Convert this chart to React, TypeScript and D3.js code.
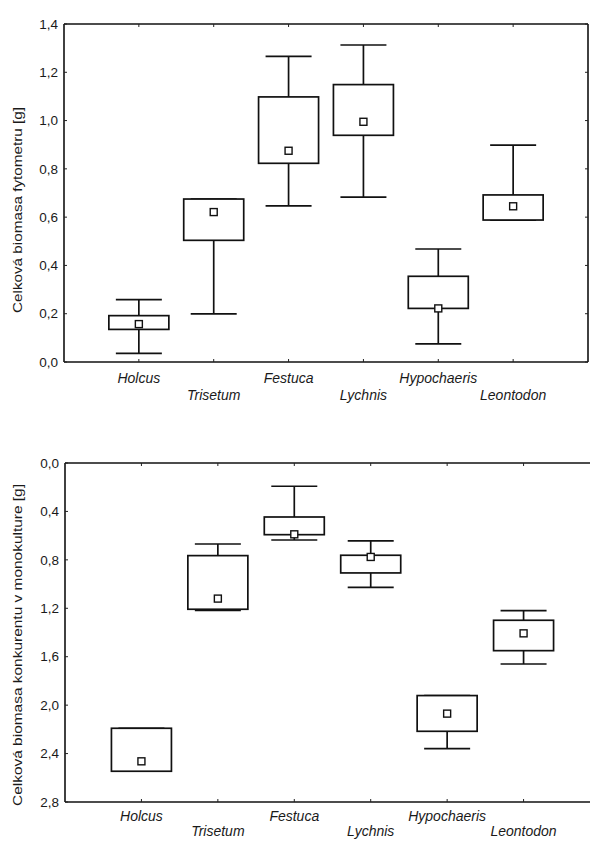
import React from 'react';
import * as d3 from 'd3';

const species = ['Holcus', 'Trisetum', 'Festuca', 'Lychnis', 'Hypochaeris', 'Leontodon'];

// top panel: biomass of phytometer
const topWhiskerLow = [0.036, 0.199, 0.647, 0.683, 0.075, 0.588];
const topBoxLow = [0.135, 0.504, 0.823, 0.939, 0.222, 0.588];
const topBoxHigh = [0.192, 0.675, 1.098, 1.149, 0.355, 0.692];
const topWhiskerHigh = [0.258, 0.675, 1.266, 1.313, 0.468, 0.898];
const topMean = [0.157, 0.621, 0.875, 0.995, 0.222, 0.645];
const topTicks = [0, 0.2, 0.4, 0.6, 0.8, 1.0, 1.2, 1.4];

// bottom panel: competitor biomass in monoculture (reversed axis)
const botWhiskerLow = [2.191, 0.669, 0.192, 0.644, 1.921, 1.219];
const botBoxLow = [2.191, 0.765, 0.446, 0.762, 1.921, 1.299];
const botBoxHigh = [2.546, 1.208, 0.592, 0.908, 2.216, 1.55];
const botWhiskerHigh = [2.546, 1.217, 0.636, 1.027, 2.359, 1.66];
const botMean = [2.464, 1.12, 0.589, 0.776, 2.07, 1.407];
const botTicks = [0, 0.4, 0.8, 1.2, 1.6, 2.0, 2.4, 2.8];

const fmt = (v: number) => d3.format('.1f')(v).replace('.', ',');

type PanelProps = {
  top: number;
  bottom: number;
  left: number;
  right: number;
  domain: [number, number];
  ticks: number[];
  wLo: number[];
  bLo: number[];
  bHi: number[];
  wHi: number[];
  mean: number[];
  title: string;
  titleY: number;
  titleLen: number;
  rightBorder: boolean;
  labelRows: [number, number];
};

function Panel(p: PanelProps) {
  const x = d3.scalePoint<string>().domain(species).range([p.left, p.right]).padding(1);
  const y = d3.scaleLinear().domain(p.domain).range([p.bottom, p.top]);
  const boxW = 60;
  const capW = 46;
  const font = '"Liberation Sans", Arial, sans-serif';
  return (
    <g>
      {/* frame */}
      <line x1={p.left} x2={p.right} y1={p.top} y2={p.top} stroke="#111" strokeWidth={1.6} />
      <line x1={p.left} x2={p.right} y1={p.bottom} y2={p.bottom} stroke="#111" strokeWidth={1.6} />
      <line x1={p.left} x2={p.left} y1={p.top} y2={p.bottom} stroke="#111" strokeWidth={1.6} />
      {p.rightBorder && (
        <line x1={p.right} x2={p.right} y1={p.top} y2={p.bottom} stroke="#111" strokeWidth={1.6} />
      )}
      {/* y ticks */}
      {p.ticks.map((t) => (
        <g key={t}>
          <line x1={p.left} x2={p.left + 3} y1={y(t)} y2={y(t)} stroke="#222" strokeWidth={1} />
          {p.rightBorder && (
            <line x1={p.right} x2={p.right - 3} y1={y(t)} y2={y(t)} stroke="#222" strokeWidth={1} />
          )}
          <text x={p.left - 6} y={y(t)} dy="0.35em" textAnchor="end" fontSize={13.5} fontFamily={font} fill="#1a1a1a">
            {fmt(t)}
          </text>
        </g>
      ))}
      {/* x ticks and labels */}
      {species.map((s, i) => (
        <g key={s}>
          <line x1={x(s)} x2={x(s)} y1={p.bottom} y2={p.bottom - 3} stroke="#222" strokeWidth={1} />
          <line x1={x(s)} x2={x(s)} y1={p.top} y2={p.top + 3} stroke="#222" strokeWidth={1} />
          <text
            x={x(s)}
            y={p.bottom + p.labelRows[i % 2]}
            textAnchor="middle"
            fontSize={14}
            fontStyle="italic"
            fontFamily={font}
            fill="#1a1a1a"
          >
            {s}
          </text>
        </g>
      ))}
      {/* boxes */}
      {species.map((s, i) => {
        const cx = x(s) as number;
        return (
          <g key={s} stroke="#111" strokeWidth={1.7} fill="none">
            <line x1={cx} x2={cx} y1={y(p.wLo[i])} y2={y(p.wHi[i])} />
            <line x1={cx - capW / 2} x2={cx + capW / 2} y1={y(p.wLo[i])} y2={y(p.wLo[i])} />
            <line x1={cx - capW / 2} x2={cx + capW / 2} y1={y(p.wHi[i])} y2={y(p.wHi[i])} />
            <rect
              x={cx - boxW / 2}
              width={boxW}
              y={Math.min(y(p.bLo[i]), y(p.bHi[i]))}
              height={Math.abs(y(p.bLo[i]) - y(p.bHi[i]))}
              fill="#fff"
            />
            <rect x={cx - 3.5} y={y(p.mean[i]) - 3.5} width={7} height={7} fill="#fff" strokeWidth={1.4} />
          </g>
        );
      })}
      <text
        transform={`translate(22,${p.titleY}) rotate(-90)`}
        textAnchor="middle"
        fontSize={13.5}
        fontFamily={font}
        fill="#1a1a1a"
        textLength={p.titleLen}
        lengthAdjust="spacingAndGlyphs"
      >
        {p.title}
      </text>
    </g>
  );
}

export default function App() {
  return (
    <svg width={590} height={841} style={{ position: 'absolute', left: 0, top: 0, background: '#fff' }}>
      <rect width={590} height={841} fill="#fff" />
      <Panel
        top={24}
        bottom={362}
        left={64}
        right={588}
        domain={[0, 1.4]}
        ticks={topTicks}
        wLo={topWhiskerLow}
        bLo={topBoxLow}
        bHi={topBoxHigh}
        wHi={topWhiskerHigh}
        mean={topMean}
        title="Celková biomasa fytometru [g]"
        titleY={210}
        titleLen={206}
        rightBorder={true}
        labelRows={[21, 38]}
      />
      <Panel
        top={463}
        bottom={802}
        left={65}
        right={600}
        domain={[2.8, 0]}
        ticks={botTicks}
        wLo={botWhiskerLow}
        bLo={botBoxLow}
        bHi={botBoxHigh}
        wHi={botWhiskerHigh}
        mean={botMean}
        title="Celková biomasa konkurentu v monokulture [g]"
        titleY={645}
        titleLen={322}
        rightBorder={false}
        labelRows={[19, 34]}
      />
    </svg>
  );
}
